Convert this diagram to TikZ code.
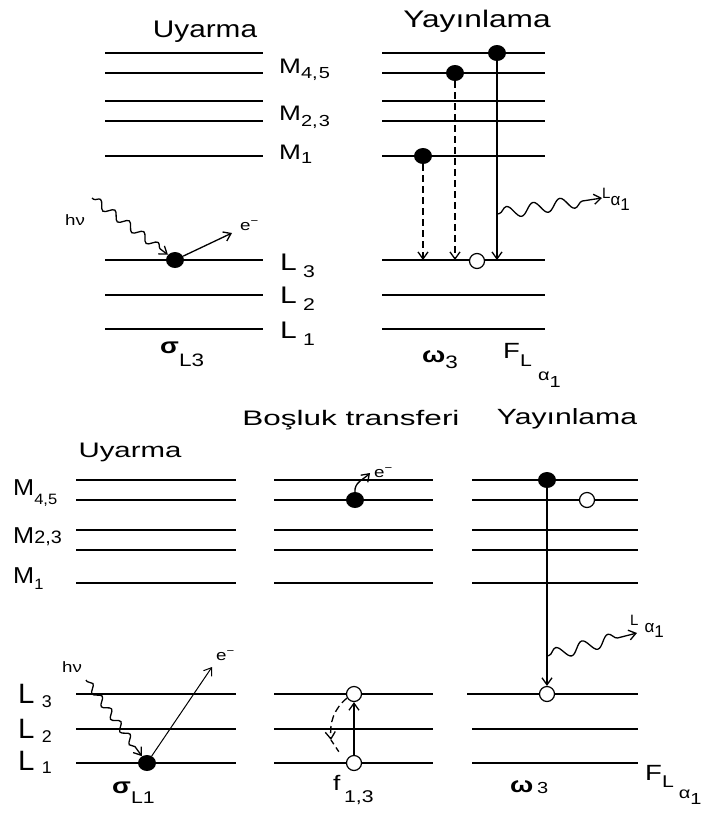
\documentclass[tikz,border=0pt]{standalone}
\usepackage{fontspec}
\setmainfont{Liberation Sans}
\usetikzlibrary{arrows.meta,shapes.geometric,decorations.pathmorphing}
\newcommand{\stretchx}[2][1.25]{\scalebox{#1}[1]{#2}}
\newcommand{\lowsub}[3][15]{\raisebox{-#2}{\fontsize{#1}{#1}\selectfont #3}}

\begin{document}
\begin{tikzpicture}[x=1pt,y=-1pt,
  lvl/.style={line width=1.5pt},
  ttl/.style={font=\fontsize{#1}{#1}\selectfont, inner sep=0pt, anchor=base},
  ttl/.default=23,
  lbl/.style={font=\fontsize{#1}{#1}\selectfont, inner sep=0pt, anchor=base west},
  lbl/.default=20,
  edot/.style={ellipse, fill, inner sep=0pt, minimum width=18pt, minimum height=16pt},
  hole/.style={circle, draw, fill=white, line width=1.2pt, inner sep=0pt, minimum size=15pt},
  arr/.style={-{Straight Barb[length=7pt,width=10pt]}, line width=1.3pt},
  dsh/.style={arr, dash pattern=on 7pt off 4pt},
  wave/.style={arr, decorate, decoration={snake, amplitude=#1, segment length=4.5*#1, pre length=2pt, post length=8pt}},
  wave/.default=5pt]
  \useasboundingbox (0,0) rectangle (705,815);
  \foreach \y in {53,73,101,121,156,260,295,329}{
    \draw[lvl] (105,\y) -- (263,\y);
    \draw[lvl] (382,\y) -- (545,\y);
  }
  \foreach \y in {480,500,530,550,583,694,729,763}{
    \draw[lvl] (76,\y) -- (236,\y);
    \draw[lvl] (274,\y) -- (433,\y);
    \draw[lvl] (472,\y) -- (638,\y);
  }
  \draw[lvl] (467,694) -- (472,694);

  \node[ttl=24] (uyarmaA) at (205,37) {\stretchx[1.24]{Uyarma}};
  \node[ttl=24] (yayinA) at (477,27) {\stretchx[1.32]{Yayınlama}};
  \node[lbl=21] (m45A) at (279,73) {\stretchx{M\lowsub[16]{5pt}{4,\hspace{1pt}5}}};
  \node[lbl=21] (m23A) at (279,120) {\stretchx{M\lowsub[16]{6pt}{2,\hspace{1pt}3}}};
  \node[lbl=21] (m1A) at (279,159) {\stretchx{M\lowsub[16]{4pt}{1}}};
  \node[lbl=24] (l3A) at (280,270) {\stretchx{L\hspace{5pt}\lowsub[17]{7pt}{3}}};
  \node[lbl=24] (l2A) at (280,303) {\stretchx{L\hspace{5pt}\lowsub[17]{7pt}{2}}};
  \node[lbl=24] (l1A) at (280,338) {\stretchx{L\hspace{5pt}\lowsub[17]{7pt}{1}}};
  \node[lbl=22] (sigA) at (160,353) {\stretchx{\textbf{σ}\lowsub[18]{13pt}{L3}}};
  \node[lbl=22] (omA) at (422,362) {\stretchx{\textbf{ω}\lowsub[18]{6pt}{3}}};
  \node[lbl=22] (fA) at (503,358) {\stretchx{F\lowsub[17]{8pt}{L}\hspace{5pt}\lowsub[16]{22pt}{α\raisebox{-7pt}{1}}}};
  \node[lbl=15] (laA) at (602,198) {L\raisebox{-7pt}{\fontsize{17}{17}\selectfont α\raisebox{-5pt}{1}}};
  \node[lbl=15] (hvA) at (65,225) {\stretchx{hν}};
  \node[lbl=15] (elA) at (240,230) {\stretchx{e\textsuperscript{−}}};

  \node[edot] (eL3) at (175,260) {};
  \node[edot] (eM1) at (423,156) {};
  \node[edot] (eM4) at (455,73) {};
  \node[edot] (eM5) at (497,53) {};
  \node[hole] (hL3) at (477,261) {};
  \coordinate (tM1) at (423,260);
  \coordinate (tM4) at (455,260);
  \coordinate (tM5) at (497,260);
  \coordinate (hvS) at (92,198);
  \coordinate (eOut) at (232,233);
  \coordinate (xS) at (497,214);
  \coordinate (xE) at (602,198);
  \draw[wave=4pt] (hvS) -- (eL3);
  \draw[arr] (eL3) -- (eOut);
  \draw[dsh] (eM1) -- (tM1);
  \draw[dsh] (eM4) -- (tM4);
  \draw[arr] (eM5) -- (tM5);
  \draw[wave=6pt] (xS) -- (xE);

  \node[ttl=21] (bosluk) at (351,425) {\stretchx[1.5]{Boşluk transferi}};
  \node[ttl=21] (uyarmaB) at (130,457) {\stretchx[1.4]{Uyarma}};
  \node[ttl=22] (yayinB) at (567,424) {\stretchx[1.37]{Yayınlama}};
  \node[lbl=23] (m45B) at (13,495) {\stretchx[1.1]{M\lowsub{9pt}{4,5}}};
  \node[lbl=23] (m23B) at (13,543) {\stretchx[1.1]{M{\fontsize{18}{18}\selectfont 2,3}}};
  \node[lbl=23] (m1B) at (13,583) {\stretchx[1.1]{M\lowsub{6pt}{1}}};
  \node[lbl=28] (l3B) at (18,703) {\stretchx[1.05]{L\hspace{7pt}\lowsub[17]{4pt}{3}}};
  \node[lbl=28] (l2B) at (18,738) {\stretchx[1.05]{L\hspace{7pt}\lowsub[17]{4pt}{2}}};
  \node[lbl=28] (l1B) at (18,770) {\stretchx[1.05]{L\hspace{7pt}\lowsub[17]{3pt}{1}}};
  \node[lbl=22] (sigB) at (112,793) {\stretchx{\textbf{σ}\lowsub[17]{10pt}{L1}}};
  \node[lbl=21] (fB) at (333,790) {\stretchx{f\lowsub[17]{12pt}{\,1,3}}};
  \node[lbl=22] (omB) at (510,792) {\stretchx{\textbf{ω}\hspace{3pt}\lowsub[16]{1pt}{3}}};
  \node[lbl=22] (fB2) at (645,780) {\stretchx{F\lowsub[17]{7pt}{L}\hspace{4pt}\lowsub[16]{18pt}{α\raisebox{-6pt}{1}}}};
  \node[lbl=15] (laB) at (630,625) {L\hspace{6pt}\raisebox{-7pt}{\fontsize{17}{17}\selectfont α\raisebox{-5pt}{1}}};
  \node[lbl=15] (hvB) at (62,672) {\stretchx{hν}};
  \node[lbl=15] (elB) at (216,660) {\stretchx{e\textsuperscript{−}}};
  \node[lbl=15] (elC) at (374,477) {\stretchx{e\textsuperscript{−}}};

  \node[edot] (eL1) at (147,763) {};
  \node[edot] (eM4b) at (355,500) {};
  \node[hole] (hL3b) at (354,694) {};
  \node[hole] (hL1b) at (354,763) {};
  \node[edot] (eM5c) at (547,480) {};
  \node[hole] (hM4c) at (587,500) {};
  \node[hole] (hL3c) at (547,694) {};
  \coordinate (hvS2) at (86,680);
  \coordinate (eOut2) at (212,667);
  \coordinate (eOut3) at (370,473);
  \coordinate (cArc) at (331,740);
  \coordinate (cTail) at (339,752);
  \coordinate (xS2) at (547,656);
  \coordinate (xE2) at (637,633);
  \draw[wave=3.5pt] (hvS2) -- (eL1);
  \draw[arr,line width=1pt] (eL1) -- (eOut2);
  \draw[arr] (eM4b.north) to[out=95,in=225] (eOut3);
  \draw[arr] (hL1b) -- (hL3b);
  \draw[dsh] (hL3b.210) to[out=220,in=95] (cArc);
  \draw[line width=1.3pt, dash pattern=on 5pt off 4pt] (cArc) -- (cTail);
  \draw[arr] (eM5c) -- (hL3c);
  \draw[wave=6pt] (xS2) -- (xE2);
\end{tikzpicture}
\end{document}
